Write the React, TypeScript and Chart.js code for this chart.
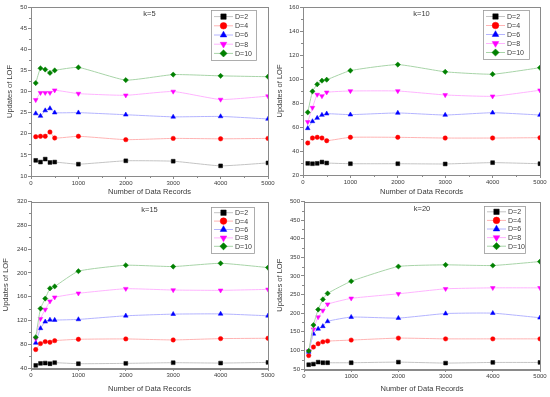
import React, { useEffect, useRef } from 'react';
import { Chart, registerables } from 'chart.js';
import { drawPoint } from 'chart.js/helpers';
Chart.register(...registerables);

// ---------- data ----------
const xValues = [100, 200, 300, 400, 500, 1000, 2000, 3000, 4000, 5000];
const seriesLabels = ['D=2', 'D=4', 'D=6', 'D=8', 'D=10'];
const panelTitles = ['k=5', 'k=10', 'k=15', 'k=20'];
const xAxisTitle = 'Number of Data Records';
const yAxisTitle = 'Updates of LOF';

const k5D2 = [13.7, 13.3, 14.0, 13.2, 13.3, 12.8, 13.6, 13.5, 12.4, 13.1];
const k5D4 = [19.3, 19.4, 19.4, 20.4, 19.0, 19.4, 18.6, 18.9, 18.8, 18.9];
const k5D6 = [24.8, 24.2, 25.5, 26.0, 25.0, 25.0, 24.5, 24.0, 24.1, 23.5];
const k5D8 = [28.0, 29.7, 29.7, 29.7, 30.3, 29.5, 29.1, 30.0, 28.1, 28.9];
const k5D10 = [32.0, 35.5, 35.2, 34.4, 35.0, 35.7, 32.7, 34.0, 33.7, 33.5];

const k10D2 = [29.7, 29.4, 29.7, 30.8, 30.0, 29.4, 29.4, 29.2, 30.3, 29.4];
const k10D4 = [46.7, 50.8, 51.4, 50.8, 48.6, 51.4, 51.4, 50.8, 50.8, 51.1];
const k10D6 = [58.9, 64.7, 67.5, 70.0, 71.1, 70.3, 71.7, 70.0, 71.9, 70.0];
const k10D8 = [64.2, 76.1, 87.0, 85.8, 88.9, 90.0, 90.0, 86.7, 85.6, 90.6];
const k10D10 = [72.2, 89.7, 95.6, 98.6, 99.4, 107.0, 112.0, 106.0, 104.0, 109.4];

const k15D2 = [44.4, 47.8, 48.3, 47.2, 48.9, 47.2, 47.8, 48.9, 48.3, 49.4];
const k15D4 = [71.0, 81.0, 84.4, 83.3, 86.0, 88.3, 88.9, 87.2, 89.4, 90.0];
const k15D6 = [82.2, 106.7, 117.8, 121.0, 120.6, 121.7, 127.8, 130.6, 131.0, 127.8];
const k15D8 = [88.9, 122.8, 138.3, 152.2, 158.9, 165.6, 173.3, 171.1, 170.6, 172.2];
const k15D10 = [91.7, 140.0, 156.7, 173.9, 177.2, 202.8, 212.8, 210.6, 216.1, 208.9];

const k20D2 = [61.5, 63.2, 68.5, 66.8, 66.8, 66.8, 68.5, 65.9, 67.6, 67.6];
const k20D4 = [86.0, 109.0, 118.0, 123.0, 125.0, 127.7, 133.0, 131.0, 131.0, 131.0];
const k20D6 = [96.0, 144.4, 157.7, 164.7, 178.0, 189.5, 186.8, 199.0, 200.0, 187.7];
const k20D8 = [98.5, 156.8, 189.5, 207.0, 224.0, 239.8, 252.0, 265.4, 268.0, 268.0];
const k20D10 = [98.5, 168.0, 209.7, 237.0, 253.0, 285.7, 325.4, 329.8, 328.0, 338.6];

const panelSeries = [
  [k5D2, k5D4, k5D6, k5D8, k5D10],
  [k10D2, k10D4, k10D6, k10D8, k10D10],
  [k15D2, k15D4, k15D6, k15D8, k15D10],
  [k20D2, k20D4, k20D6, k20D8, k20D10],
];
const yMins = [10, 20, 40, 50];
const yMaxs = [50, 160, 320, 500];
const ySteps = [5, 20, 40, 50];

// ---------- styles ----------
const FONT = "'Liberation Sans', Arial, sans-serif";
const AXIS = '#8a8a8a';
const TEXT = '#3a3a3a';
const markerColors = ['#000000', '#ff0000', '#0000ff', '#ff00ff', '#008000'];
const lineColors = ['#c4c4c4', '#ffb4b4', '#b4b4ff', '#ffb4ff', '#a8d4a8'];
const pointStyles = ['rect', 'circle', 'triangle', 'triangle', 'rectRot'];
const pointRotations = [0, 0, 0, 180, 0];
const pointRadii = [2.7, 2.2, 2.7, 2.7, 2.6];
const legendRadii = [3.8, 3.3, 3.8, 3.8, 3.6];

// layout per panel (cell geometry, chart area rel. to cell)
const cells = [
  { x: 0, y: 0, w: 275, h: 197, left: 31, right: 268, top: 7, bottom: 176, yTitlePad: 5.5, xTitlePad: 0.8, legTop: 3, legRight: 12, legW: 45, legH: 50, titleY: 7 },
  { x: 275, y: 0, w: 275, h: 197, left: 28, right: 265, top: 7, bottom: 175, yTitlePad: 0, xTitlePad: 0.8, legTop: 3, legRight: 11, legW: 46, legH: 49, titleY: 7 },
  { x: 0, y: 197, w: 275, h: 200, left: 31, right: 268, top: 2, bottom: 171, yTitlePad: 1.5, xTitlePad: 3.2, legTop: 5, legRight: 14, legW: 43, legH: 46, titleY: 8 },
  { x: 275, y: 197, w: 275, h: 200, left: 29, right: 265, top: 2, bottom: 172, yTitlePad: 0, xTitlePad: 3.8, legTop: 4, legRight: 15, legW: 41, legH: 47, titleY: 7 },
];

const decorPlugin = {
  id: 'decor',
  afterDraw(chart: any, _args: any, opts: any) {
    const { ctx, chartArea: a, scales } = chart;
    ctx.save();
    // frame
    ctx.strokeStyle = AXIS;
    ctx.lineWidth = 1;
    ctx.strokeRect(Math.round(a.left) + 0.5, Math.round(a.top) + 0.5, Math.round(a.right - a.left), Math.round(a.bottom - a.top));
    // minor ticks
    ctx.beginPath();
    for (let v = 500; v < 5000; v += 1000) {
      const px = Math.round(scales.x.getPixelForValue(v)) + 0.5;
      ctx.moveTo(px, a.bottom);
      ctx.lineTo(px, a.bottom + 2);
    }
    const ys = scales.y;
    for (let v = ys.min + opts.step / 2; v < ys.max; v += opts.step) {
      const py = Math.round(ys.getPixelForValue(v)) + 0.5;
      ctx.moveTo(a.left, py);
      ctx.lineTo(a.left - 2, py);
    }
    ctx.stroke();
    // panel title
    ctx.fillStyle = TEXT;
    ctx.font = `7.5px ${FONT}`;
    ctx.textAlign = 'center';
    ctx.textBaseline = 'middle';
    ctx.fillText(opts.title, (a.left + a.right) / 2, a.top + opts.titleY);
    // legend
    const lw = opts.legW, lh = opts.legH;
    const lx = a.right - opts.legRight - lw;
    const ly = a.top + opts.legTop;
    ctx.fillStyle = '#ffffff';
    ctx.fillRect(lx, ly, lw, lh);
    ctx.strokeStyle = '#9a9a9a';
    ctx.lineWidth = 0.8;
    ctx.strokeRect(Math.round(lx) + 0.5, Math.round(ly) + 0.5, lw, lh);
    const rowH = (lh - 4) / 5;
    ctx.font = `7px ${FONT}`;
    ctx.textAlign = 'left';
    for (let i = 0; i < 5; i++) {
      const cy = ly + 2 + rowH * (i + 0.5);
      ctx.strokeStyle = lineColors[i];
      ctx.lineWidth = 1;
      ctx.beginPath();
      ctx.moveTo(lx + 3, cy);
      ctx.lineTo(lx + 22, cy);
      ctx.stroke();
      ctx.fillStyle = markerColors[i];
      ctx.strokeStyle = markerColors[i];
      ctx.lineWidth = 0.5;
      drawPoint(ctx, { pointStyle: pointStyles[i], rotation: pointRotations[i], radius: legendRadii[i], borderWidth: 0.5 } as any, lx + 12.5, cy);
      ctx.fillStyle = TEXT;
      ctx.fillText(seriesLabels[i], lx + 24, cy + 0.5);
    }
    ctx.restore();
  },
};

function Panel({ idx }: { idx: number }) {
  const ref = useRef<HTMLCanvasElement | null>(null);
  const c = cells[idx];
  useEffect(() => {
    if (!ref.current) return;
    const datasets = panelSeries[idx].map((arr, i) => ({
      label: seriesLabels[i],
      data: xValues.map((x, j) => ({ x, y: arr[j] })),
      borderColor: lineColors[i],
      borderWidth: 1,
      backgroundColor: markerColors[i],
      pointBackgroundColor: markerColors[i],
      pointBorderColor: markerColors[i],
      pointBorderWidth: 0.5,
      pointStyle: pointStyles[i],
      pointRotation: pointRotations[i],
      pointRadius: pointRadii[i],
      tension: 0.15,
      order: 5 - i,
    }));
    const chart = new Chart(ref.current, {
      type: 'line',
      data: { datasets },
      plugins: [decorPlugin as any],
      options: {
        animation: false,
        responsive: false,
        maintainAspectRatio: false,
        layout: { padding: { top: c.top, right: c.w - c.right, left: 0, bottom: 0 } },
        plugins: {
          legend: { display: false },
          tooltip: { enabled: false },
          decor: { title: panelTitles[idx], step: ySteps[idx], legTop: c.legTop, legRight: c.legRight, legW: c.legW, legH: c.legH, titleY: c.titleY },
        } as any,
        scales: {
          x: {
            type: 'linear',
            min: 0,
            max: 5000,
            afterFit: (s: any) => { s.height = c.h - c.bottom; s.paddingLeft = 0; s.paddingRight = 0; },
            ticks: { stepSize: 1000, maxRotation: 0, autoSkip: false, padding: 1, color: TEXT, font: { family: FONT, size: 6 }, callback: (v: any) => String(v) },
            grid: { drawOnChartArea: false, drawTicks: true, tickLength: 3, tickColor: AXIS },
            border: { display: true, color: AXIS },
            title: { display: true, text: xAxisTitle, color: TEXT, font: { family: FONT, size: 7.5 }, padding: { top: 0, bottom: c.xTitlePad } },
          },
          y: {
            type: 'linear',
            min: yMins[idx],
            max: yMaxs[idx],
            afterFit: (s: any) => { s.width = c.left; s.paddingTop = 0; s.paddingBottom = 0; },
            ticks: { stepSize: ySteps[idx], padding: 1, color: TEXT, font: { family: FONT, size: 6 }, callback: (v: any) => String(v) },
            grid: { drawOnChartArea: false, drawTicks: true, tickLength: 3, tickColor: AXIS },
            border: { display: true, color: AXIS },
            title: { display: true, text: yAxisTitle, color: TEXT, font: { family: FONT, size: 7.5 }, padding: { top: c.yTitlePad, bottom: 0 } },
          },
        },
      },
    });
    return () => chart.destroy();
  }, [idx]);
  return (
    <div style={{ position: 'absolute', left: c.x, top: c.y, width: c.w, height: c.h }}>
      <canvas ref={ref} width={c.w} height={c.h} style={{ display: 'block' }} />
    </div>
  );
}

export default function App() {
  return (
    <div style={{ position: 'absolute', left: 0, top: 0, width: 550, height: 397, background: '#ffffff', overflow: 'hidden' }}>
      {[0, 1, 2, 3].map((i) => (
        <Panel key={i} idx={i} />
      ))}
    </div>
  );
}
